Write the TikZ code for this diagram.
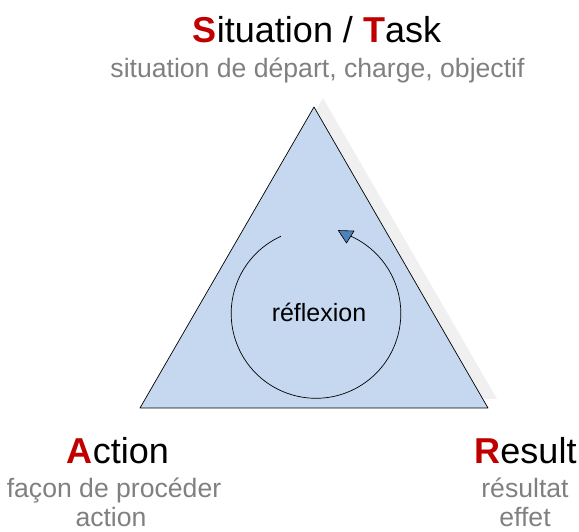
\documentclass[tikz,border=0pt]{standalone}
\usepackage{fontspec}
\setmainfont{Liberation Sans}
\definecolor{rosso}{HTML}{C00000}
\definecolor{grigiotesto}{HTML}{808080}
\definecolor{azzurro}{HTML}{C6D8EF}
\definecolor{blupunta}{HTML}{4F81BD}
\definecolor{grigioombra}{HTML}{F0F0F0}
\newcommand{\iniziale}[1]{\textcolor{rosso}{\bfseries #1}}
\begin{document}
\begin{tikzpicture}[x=1pt,y=1pt]
    % Definizione stili
    \tikzstyle{titolo}=[anchor=base, inner sep=0pt, font=\fontsize{36}{40}\selectfont]
    \tikzstyle{sottotitolo}=[anchor=base, inner sep=0pt, text=grigiotesto, font=\fontsize{26.6}{30}\selectfont]
    \tikzstyle{triangolo}=[draw=black, fill=azzurro, line width=0.7pt, line join=round]
    \tikzstyle{ombra}=[fill=grigioombra]
    \tikzstyle{ciclo}=[draw=black, line width=0.7pt]
    \tikzstyle{punta}=[draw=black, fill=blupunta, line width=0.6pt, line join=round]

    \useasboundingbox (0,0) rectangle (579,532);

    % Vertici del triangolo
    \coordinate (apice) at (314,425);
    \coordinate (sinistra) at (140,124);
    \coordinate (destra) at (488,124);

    % Ombra e triangolo
    \fill[ombra] ([shift={(9,9)}]apice) -- ([shift={(9,9)}]sinistra) -- ([shift={(9,9)}]destra) -- cycle;
    \draw[triangolo] (apice) -- (sinistra) -- (destra) -- cycle;

    % Ciclo di riflessione
    \coordinate (centro) at (316,218.5);
    \node[anchor=base, inner sep=0pt, font=\fontsize{25}{30}\selectfont] (riflessione) at (319,210.3) {réflexion};
    \draw[ciclo] ([shift={(114.4:84.8)}]centro) arc[start angle=114.4, end angle=425.6, radius=84.8];
    \coordinate (punta_ciclo) at (346.5,289);
    \filldraw[punta] (punta_ciclo) -- ++(-8.2,12.5) -- ++(15.7,-0.5) -- cycle;

    % Situation / Task
    \node[titolo] (situazione) at (317,489) {\iniziale{S}ituation / \iniziale{T}ask};
    \node[sottotitolo] (situazione_desc) at (317.5,454) {situation de départ, charge, objectif};

    % Action
    \node[titolo] (azione) at (118,68) {\iniziale{A}ction};
    \node[sottotitolo] (azione_desc1) at (114,34) {façon de procéder};
    \node[sottotitolo] (azione_desc2) at (111,5) {action};

    % Result
    \node[titolo] (risultato) at (525.5,68) {\iniziale{R}esult};
    \node[sottotitolo] (risultato_desc1) at (525,34) {résultat};
    \node[sottotitolo] (risultato_desc2) at (525,5) {effet};
\end{tikzpicture}
\end{document}
